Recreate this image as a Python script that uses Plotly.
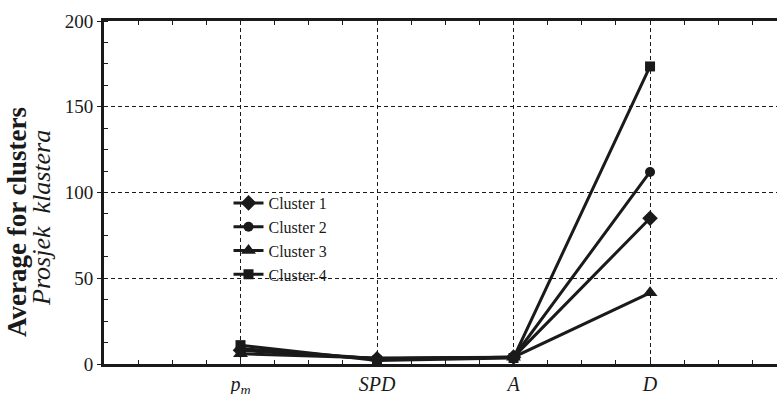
import plotly.graph_objects as go

categories = ["<i>p<sub>m</sub></i>", "<i>SPD</i>", "<i>A</i>", "<i>D</i>"]
cluster_names = ["Cluster 1", "Cluster 2", "Cluster 3", "Cluster 4"]
cluster1 = [8, 3, 4, 85]
cluster2 = [9, 3, 4, 112]
cluster3 = [6, 3.5, 4, 41.5]
cluster4 = [11, 2, 3.5, 173.5]
y_ticks = [0, 50, 100, 150, 200]

series = [cluster1, cluster2, cluster3, cluster4]
symbols = ["diamond", "circle", "triangle-up", "square"]
sizes = [12, 10, 13, 10]

FONT = "Liberation Serif"
fig = go.Figure()
xs = list(range(len(categories)))
for name, vals, sym, sz in zip(cluster_names, series, symbols, sizes):
    fig.add_trace(go.Scatter(
        x=xs, y=vals, name=name, mode="lines+markers",
        line=dict(color="#1a1a1a", width=3),
        marker=dict(symbol=sym, size=sz, color="#1a1a1a"),
    ))

fig.update_layout(
    width=777, height=394,
    margin=dict(l=104, r=0, t=21, b=30, autoexpand=False),
    paper_bgcolor="white", plot_bgcolor="white",
    font=dict(family=FONT, color="#1a1a1a"),
    showlegend=True,
    legend=dict(x=0.185, y=0.519, xanchor="left", yanchor="top",
                bgcolor="rgba(0,0,0,0)", font=dict(size=16, family=FONT),
                tracegroupgap=0, itemwidth=30),
    xaxis=dict(
        range=[-1, 3.93], tickvals=xs, ticktext=categories, automargin=False,
        tickfont=dict(size=20, family=FONT),
        showgrid=True, gridcolor="#1a1a1a", gridwidth=1, griddash="4px,3px",
        showline=True, linecolor="#1a1a1a", linewidth=2.5, mirror="allticks",
        ticks="inside", ticklen=4, tickcolor="#1a1a1a",
        minor=dict(dtick=0.25, tick0=0, ticks="inside", ticklen=4, tickcolor="#1a1a1a", showgrid=False),
        zeroline=False,
    ),
    yaxis=dict(
        range=[0, 200], tickvals=y_ticks, automargin=False,
        tickfont=dict(size=19, family=FONT),
        showgrid=True, gridcolor="#1a1a1a", gridwidth=1, griddash="4px,3px",
        showline=True, linecolor="#1a1a1a", linewidth=3,
        ticks="outside", ticklen=4, tickcolor="#1a1a1a",
        minor=dict(dtick=12.5, tick0=0, ticks="inside", ticklen=4, tickcolor="#1a1a1a", showgrid=False),
        zeroline=False,
    ),
)

fig.add_annotation(text="<b>Average for clusters</b>", textangle=-90,
                   xref="paper", yref="paper", x=-104/673 + 17/673, y=(364-222)/343,
                   xanchor="center", yanchor="middle", showarrow=False,
                   font=dict(size=27, family=FONT, color="#1a1a1a"))
fig.add_annotation(text="<i>Prosjek&nbsp; klastera</i>", textangle=-90,
                   xref="paper", yref="paper", x=-104/673 + 41/673, y=(364-218)/343,
                   xanchor="center", yanchor="middle", showarrow=False,
                   font=dict(size=26, family=FONT, color="#1a1a1a"))

fig.write_html("out.html", config={"displayModeBar": False},
               post_script="document.body.style.margin='0';document.body.style.overflow='hidden';")
